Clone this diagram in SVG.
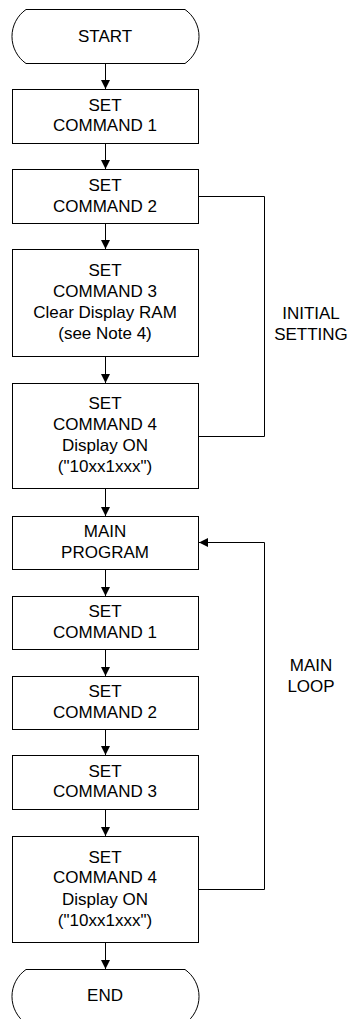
<svg xmlns="http://www.w3.org/2000/svg" width="350" height="1019" viewBox="0 0 350 1019">
<style>
.shape{fill:#fff;stroke:#000;stroke-width:1}
.conn{fill:none;stroke:#000;stroke-width:1}
text{font-family:"Liberation Sans",Arial,sans-serif;font-size:17px;fill:#000;text-anchor:middle}
</style>
<defs>
<marker id="arr" markerUnits="userSpaceOnUse" markerWidth="9" markerHeight="9" refX="9" refY="4.5" orient="auto">
<path d="M0,0 L9,4.5 L0,9 Z" fill="#000"/>
</marker>
</defs>
<rect width="350" height="1019" fill="#fff"/>
<g id="connectors">
<line class="conn" x1="105.5" y1="63.5" x2="105.5" y2="89" marker-end="url(#arr)"/>
<line class="conn" x1="105.5" y1="143.5" x2="105.5" y2="169" marker-end="url(#arr)"/>
<line class="conn" x1="105.5" y1="223.5" x2="105.5" y2="249" marker-end="url(#arr)"/>
<line class="conn" x1="105.5" y1="356.5" x2="105.5" y2="383" marker-end="url(#arr)"/>
<line class="conn" x1="105.5" y1="488.5" x2="105.5" y2="516" marker-end="url(#arr)"/>
<line class="conn" x1="105.5" y1="569.5" x2="105.5" y2="596" marker-end="url(#arr)"/>
<line class="conn" x1="105.5" y1="649.5" x2="105.5" y2="676" marker-end="url(#arr)"/>
<line class="conn" x1="105.5" y1="729.5" x2="105.5" y2="755" marker-end="url(#arr)"/>
<line class="conn" x1="105.5" y1="809.5" x2="105.5" y2="836" marker-end="url(#arr)"/>
<line class="conn" x1="105.5" y1="942.5" x2="105.5" y2="969" marker-end="url(#arr)"/>
<polyline class="conn" points="198.5,196.5 264.5,196.5 264.5,436.5 198.5,436.5"/>
<polyline class="conn" points="198.5,889.5 264.5,889.5 264.5,542.5 199,542.5" marker-end="url(#arr)"/>
</g>
<g id="start">
<path class="shape" d="M26,9.5 H185 A33,33 0 0 1 185,63.5 H26 A33,33 0 0 1 26,9.5 Z"/>
<text x="105" y="42">START</text>
</g>
<g id="init-cmd1">
<rect class="shape" x="12.5" y="89.5" width="186" height="54"/>
<text x="105" y="111">SET</text>
<text x="105" y="131">COMMAND 1</text>
</g>
<g id="init-cmd2">
<rect class="shape" x="12.5" y="169.5" width="186" height="54"/>
<text x="105" y="191">SET</text>
<text x="105" y="212">COMMAND 2</text>
</g>
<g id="init-cmd3">
<rect class="shape" x="12.5" y="249.5" width="186" height="107"/>
<text x="105" y="276">SET</text>
<text x="105" y="297">COMMAND 3</text>
<text x="105" y="318">Clear Display RAM</text>
<text x="105" y="339">(see Note 4)</text>
</g>
<g id="init-cmd4">
<rect class="shape" x="12.5" y="383.5" width="186" height="105"/>
<text x="105" y="409">SET</text>
<text x="105" y="430">COMMAND 4</text>
<text x="105" y="451">Display ON</text>
<text x="105" y="472">("10xx1xxx")</text>
</g>
<g id="initial-setting-label">
<text x="311" y="319">INITIAL</text>
<text x="311" y="340">SETTING</text>
</g>
<g id="main-program">
<rect class="shape" x="12.5" y="516.5" width="186" height="53"/>
<text x="105" y="537">MAIN</text>
<text x="105" y="558">PROGRAM</text>
</g>
<g id="loop-cmd1">
<rect class="shape" x="12.5" y="596.5" width="186" height="53"/>
<text x="105" y="617">SET</text>
<text x="105" y="638">COMMAND 1</text>
</g>
<g id="loop-cmd2">
<rect class="shape" x="12.5" y="676.5" width="186" height="53"/>
<text x="105" y="697">SET</text>
<text x="105" y="718">COMMAND 2</text>
</g>
<g id="loop-cmd3">
<rect class="shape" x="12.5" y="755.5" width="186" height="54"/>
<text x="105" y="777">SET</text>
<text x="105" y="797">COMMAND 3</text>
</g>
<g id="loop-cmd4">
<rect class="shape" x="12.5" y="836.5" width="186" height="106"/>
<text x="105" y="863">SET</text>
<text x="105" y="883">COMMAND 4</text>
<text x="105" y="905">Display ON</text>
<text x="105" y="926">("10xx1xxx")</text>
</g>
<g id="main-loop-label">
<text x="311" y="671">MAIN</text>
<text x="311" y="692">LOOP</text>
</g>
<g id="end">
<path class="shape" d="M26,969.5 H185 A33,33 0 0 1 185,1023.5 H26 A33,33 0 0 1 26,969.5 Z"/>
<text x="105" y="1001">END</text>
</g>
</svg>
